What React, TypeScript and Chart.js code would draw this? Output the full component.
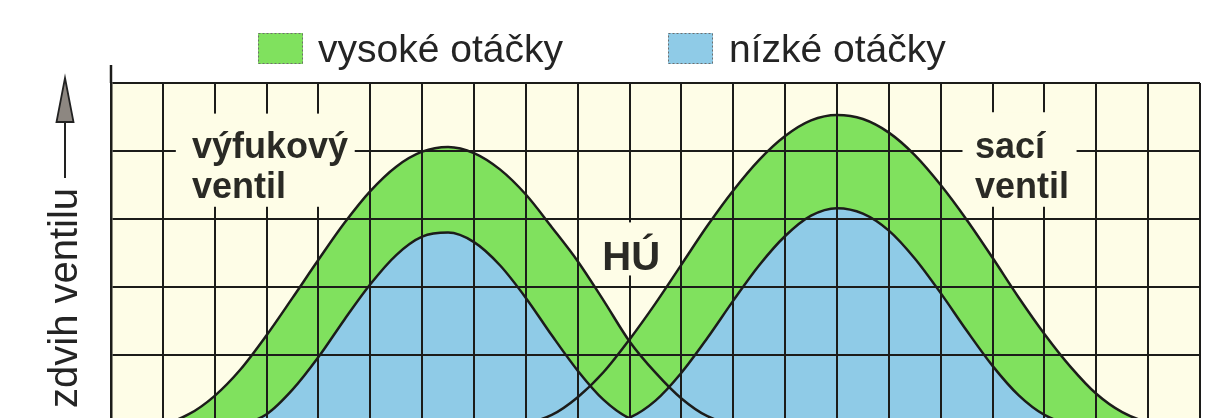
import { useEffect, useRef } from "react";
import { Chart, registerables } from "chart.js";

Chart.register(...registerables);

// Crank position along the grid (one unit per grid column)
const crankSteps = [
  0, 0.5, 1, 1.5, 2, 2.5, 3, 3.5, 4, 4.5, 5, 5.5, 6, 6.5, 7, 7.5, 8, 8.5, 9, 9.5, 10,
  10.5, 11, 11.5, 12, 12.5, 13, 13.5, 14, 14.5, 15, 15.5, 16, 16.5, 17, 17.5, 18, 18.5,
  19, 19.5, 20, 20.5, 21,
];

// Valve lift (grid rows) – exhaust valve
const exhaustHigh = [
  0, 0, 0, 0.13, 0.4, 0.79, 1.29, 1.84, 2.4, 2.94, 3.41, 3.77, 3.99, 4.06, 3.97, 3.73,
  3.36, 2.88, 2.38, 1.8, 1.2, 0.74, 0.36, 0.1, 0, 0, 0, 0, 0, 0, 0, 0, 0, 0, 0, 0, 0, 0,
  0, 0, 0, 0, 0,
];
const exhaustLow = [
  0, 0, 0, 0, 0, 0, 0.13, 0.49, 0.97, 1.52, 2.04, 2.47, 2.74, 2.8, 2.66, 2.32, 1.84,
  1.29, 0.77, 0.34, 0.07, 0, 0, 0, 0, 0, 0, 0, 0, 0, 0, 0, 0, 0, 0, 0, 0, 0, 0, 0, 0, 0, 0,
];

// Valve lift (grid rows) – intake valve
const intakeHigh = [
  0, 0, 0, 0, 0, 0, 0, 0, 0, 0, 0, 0, 0, 0, 0, 0, 0.01, 0.12, 0.38, 0.75, 1.23, 1.76,
  2.33, 2.9, 3.42, 3.87, 4.22, 4.45, 4.53, 4.47, 4.27, 3.94, 3.5, 2.99, 2.43, 1.85, 1.31,
  0.83, 0.43, 0.16, 0.02, 0, 0,
];
const intakeLow = [
  0, 0, 0, 0, 0, 0, 0, 0, 0, 0, 0, 0, 0, 0, 0, 0, 0, 0, 0, 0, 0.08, 0.33, 0.74, 1.25,
  1.8, 2.32, 2.75, 3.05, 3.16, 3.08, 2.83, 2.42, 1.91, 1.36, 0.84, 0.41, 0.12, 0, 0, 0, 0,
  0, 0,
];

const liftGridLines = [1, 2, 3, 4, 5];
const legendLabels = ["vysoké otáčky", "nízké otáčky"];
const exhaustLabel = ["výfukový", "ventil"];
const intakeLabel = ["sací", "ventil"];
const deadCentreLabel = "HÚ";
const axisTitle = "zdvih ventilu";

const GREEN = "#80e15e";
const BLUE = "#8fcbe7";
const PLOT_BG = "#fefde7";
const INK = "#1c1c1a";
const SANS = "'Liberation Sans', Arial, sans-serif";

const toPoints = (ys: number[]) => crankSteps.map((x, i) => ({ x, y: ys[i] }));

const decorations = {
  id: "decorations",
  beforeDraw(chart: any) {
    const { ctx, chartArea: a, width, height } = chart;
    ctx.save();
    ctx.fillStyle = "#ffffff";
    ctx.fillRect(0, 0, width, height);
    ctx.fillStyle = PLOT_BG;
    ctx.fillRect(a.left, a.top, a.right - a.left, a.bottom - a.top);
    ctx.restore();
  },
  afterDraw(chart: any) {
    const { ctx, chartArea: a } = chart;
    const xs = chart.scales.x;
    const ys = chart.scales.y;
    const px = (v: number) => xs.getPixelForValue(v);
    const py = (v: number) => ys.getPixelForValue(v);
    ctx.save();

    // label panels that break the grid
    const panel = (x0: number, x1: number, y0: number, y1: number) => {
      ctx.fillStyle = PLOT_BG;
      ctx.fillRect(px(x0), py(y0), px(x1) - px(x0), py(y1) - py(y0));
    };
    panel(1.25, 4.7, 4.55, 3.18);
    panel(16.42, 18.62, 4.57, 3.18);
    panel(9.42, 10.63, 2.95, 2.17);

    ctx.fillStyle = "#2a2a25";
    ctx.textBaseline = "alphabetic";
    ctx.font = `bold 36px ${SANS}`;
    ctx.textAlign = "left";
    ctx.fillText(exhaustLabel[0], px(1.56), py(3.9));
    ctx.fillText(exhaustLabel[1], px(1.56), py(3.31));
    ctx.fillText(intakeLabel[0], px(16.66), py(3.9));
    ctx.fillText(intakeLabel[1], px(16.66), py(3.31));
    ctx.font = `bold 40px ${SANS}`;
    ctx.textAlign = "center";
    ctx.fillText(deadCentreLabel, px(10.03), py(2.25));

    // axis stem above the plot
    ctx.strokeStyle = INK;
    ctx.lineWidth = 2.5;
    ctx.beginPath();
    ctx.moveTo(a.left, a.top);
    ctx.lineTo(a.left, a.top - 18);
    ctx.stroke();

    // legend
    const swatches = [
      { x: 258, color: GREEN, text: legendLabels[0], tx: 318 },
      { x: 668, color: BLUE, text: legendLabels[1], tx: 729 },
    ];
    ctx.font = `39px ${SANS}`;
    ctx.textAlign = "left";
    for (const s of swatches) {
      ctx.fillStyle = s.color;
      ctx.fillRect(s.x, 33, 45, 31);
      ctx.setLineDash([2, 2]);
      ctx.lineWidth = 1;
      ctx.strokeStyle = "#6e6e6e";
      ctx.strokeRect(s.x + 0.5, 33.5, 44, 30);
      ctx.setLineDash([]);
      ctx.fillStyle = "#242424";
      ctx.fillText(s.text, s.tx, 62);
    }

    // vertical title with arrow
    ctx.save();
    ctx.translate(77, 408);
    ctx.rotate(-Math.PI / 2);
    ctx.font = `40px ${SANS}`;
    ctx.fillStyle = "#242424";
    ctx.fillText(axisTitle, 0, 0);
    ctx.restore();

    ctx.strokeStyle = "#222";
    ctx.lineWidth = 2;
    ctx.beginPath();
    ctx.moveTo(65, 178);
    ctx.lineTo(65, 120);
    ctx.stroke();
    ctx.beginPath();
    ctx.moveTo(65, 78);
    ctx.lineTo(73.5, 122);
    ctx.lineTo(56.5, 122);
    ctx.closePath();
    ctx.fillStyle = "#8d8781";
    ctx.fill();
    ctx.lineWidth = 1.8;
    ctx.stroke();

    ctx.restore();
  },
};

export default function App() {
  const canvasRef = useRef<HTMLCanvasElement | null>(null);

  useEffect(() => {
    if (!canvasRef.current) return;
    const curve = (label: string, ys: number[], color: string, order: number) => ({
      label,
      data: toPoints(ys),
      borderColor: INK,
      borderWidth: 2.5,
      backgroundColor: color,
      fill: "start",
      pointRadius: 0,
      cubicInterpolationMode: "monotone" as const,
      order,
    });
    const chart = new Chart(canvasRef.current, {
      type: "line",
      data: {
        datasets: [
          curve(legendLabels[0], exhaustHigh, GREEN, 2),
          curve(legendLabels[0], intakeHigh, GREEN, 2),
          curve(legendLabels[1], exhaustLow, BLUE, 1),
          curve(legendLabels[1], intakeLow, BLUE, 1),
        ],
      },
      options: {
        animation: false,
        responsive: true,
        maintainAspectRatio: false,
        layout: { padding: { left: 111, top: 83, right: 5, bottom: 0 } },
        plugins: {
          legend: { display: false },
          tooltip: { enabled: false },
          filler: { drawTime: "beforeDatasetsDraw" },
        },
        scales: {
          x: {
            type: "linear",
            min: 0,
            max: 21,
            ticks: { display: false, stepSize: 1 },
            grid: { color: INK, lineWidth: 2, drawTicks: false, z: 1 },
            border: { display: false },
          },
          y: {
            type: "linear",
            min: 0.074,
            max: 5,
            afterBuildTicks: (axis: any) => {
              axis.ticks = liftGridLines.map((value) => ({ value }));
            },
            ticks: { display: false },
            grid: { color: INK, lineWidth: 2, drawTicks: false, z: 1 },
            border: { display: true, color: INK, width: 2.5, z: 1 },
          },
        },
      },
      plugins: [decorations],
    });
    return () => chart.destroy();
  }, []);

  return (
    <div style={{ position: "fixed", left: 0, top: 0, width: 1205, height: 418 }}>
      <canvas ref={canvasRef} />
    </div>
  );
}
